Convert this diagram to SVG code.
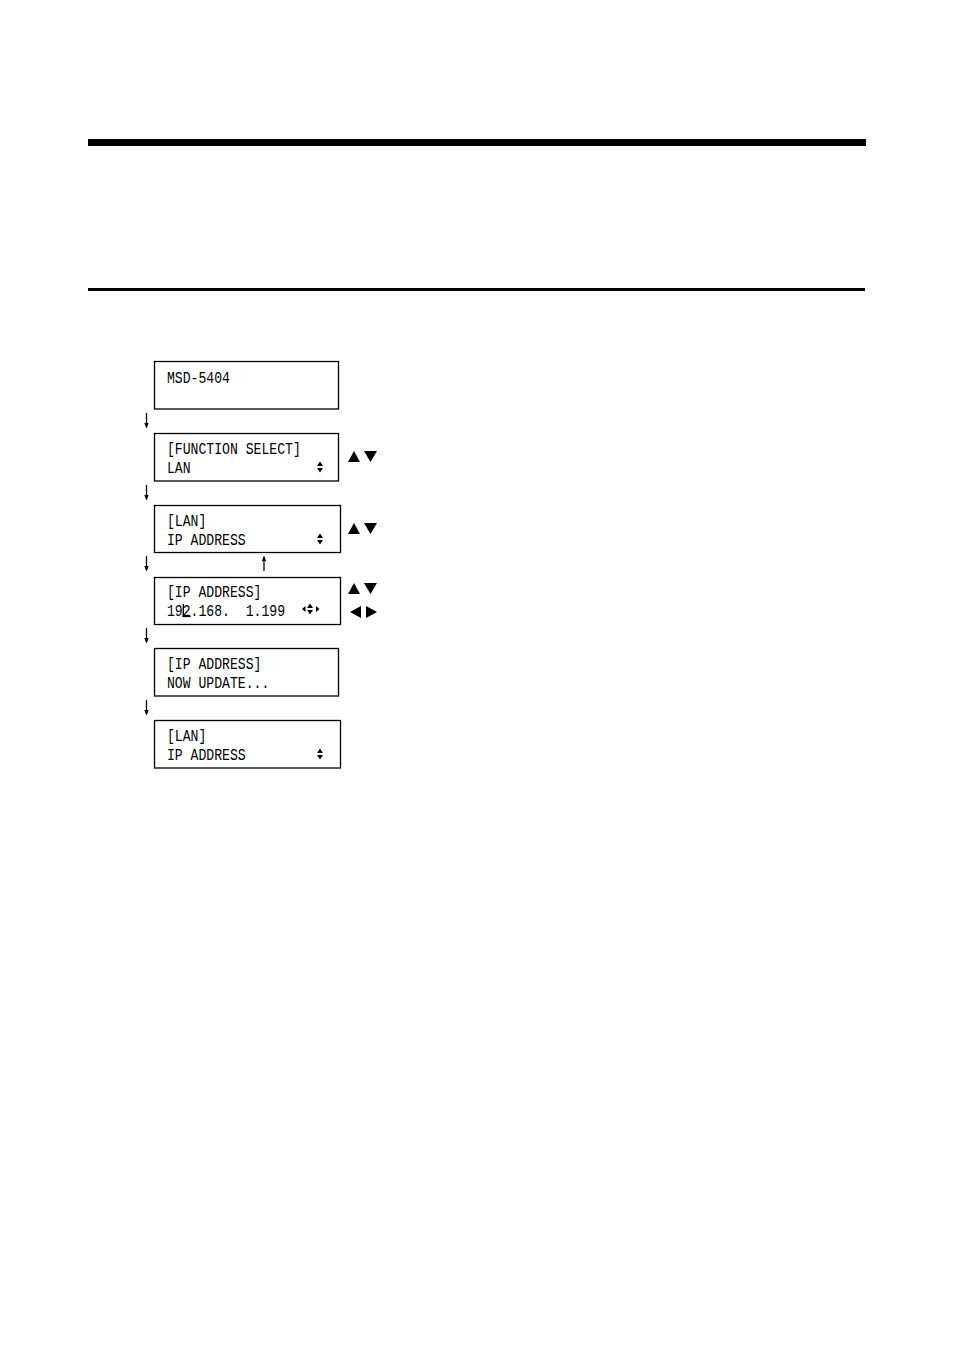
<svg xmlns="http://www.w3.org/2000/svg" width="954" height="1350" viewBox="0 0 954 1350">
<defs>
<style>
.box{fill:#fff;stroke:#000;stroke-width:1.3}
.t{font-family:"Liberation Mono","DejaVu Sans Mono",monospace;font-size:16px;fill:#000;white-space:pre}
.tri{fill:#000}
.ar{stroke:#000;stroke-width:1.3;fill:none}
</style>
<g id="ud">
<path class="tri" d="M-3,-1 L0,-5.5 L3,-1 Z M-3,1 L0,5.5 L3,1 Z"/>
</g>
<g id="dn"><line class="ar" x1="0" y1="0" x2="0" y2="14"/><path class="tri" d="M-2.2,10 L0,15.5 L2.2,10 Z"/></g>
</defs>
<rect width="954" height="1350" fill="#fff"/>
<rect x="88" y="139" width="778" height="7" fill="#000"/>
<rect x="88" y="288" width="777" height="3" fill="#000"/>

<g id="connectors">
<use href="#dn" x="146.5" y="413"/>
<use href="#dn" x="146.5" y="485"/>
<use href="#dn" x="146.5" y="556"/>
<use href="#dn" x="146.5" y="628"/>
<use href="#dn" x="146.5" y="700"/>
<g transform="translate(264,571) scale(1,-1)"><use href="#dn"/></g>
</g>

<g id="n1">
<rect class="box" x="154.5" y="361.5" width="184" height="47.5"/>
<text class="t" transform="translate(167,383) scale(0.82,1)">MSD-5404</text>
</g>

<g id="n2">
<rect class="box" x="154.5" y="433.5" width="184" height="47.5"/>
<text class="t" transform="translate(167,454) scale(0.82,1)">[FUNCTION SELECT]</text>
<text class="t" transform="translate(167,473) scale(0.82,1)">LAN</text>
<use href="#ud" x="320" y="467"/>
<path class="tri" d="M348,462 L354,451 L360,462 Z M364,451 L377,451 L370.5,462 Z"/>
</g>

<g id="n3">
<rect class="box" x="154.5" y="505.5" width="186" height="47"/>
<text class="t" transform="translate(167,526) scale(0.82,1)">[LAN]</text>
<text class="t" transform="translate(167,545) scale(0.82,1)">IP ADDRESS</text>
<use href="#ud" x="320" y="539"/>
<path class="tri" d="M348,534 L354,523 L360,534 Z M364,523 L377,523 L370.5,534 Z"/>
</g>

<g id="n4">
<rect class="box" x="154.5" y="577.5" width="186" height="47"/>
<text class="t" transform="translate(167,597) scale(0.82,1)">[IP ADDRESS]</text>
<text class="t" xml:space="preserve" transform="translate(167,616) scale(0.82,1)">192.168.  1.199</text>
<rect x="182.6" y="604" width="1.4" height="13" fill="#000"/>
<rect x="182.6" y="615.5" width="8" height="1.6" fill="#000"/>
<path class="tri" d="M302,609 L305.5,606 L305.5,612 Z M316,606 L319.5,609 L316,612 Z"/>
<use href="#ud" x="310" y="609"/>
<path class="tri" d="M348,594 L354,583 L360,594 Z M364,583 L377,583 L370.5,594 Z"/>
<path class="tri" d="M350,612 L361,606 L361,618 Z M366,606 L377,612 L366,618 Z"/>
</g>

<g id="n5">
<rect class="box" x="154.5" y="648.5" width="184" height="47.5"/>
<text class="t" transform="translate(167,669) scale(0.82,1)">[IP ADDRESS]</text>
<text class="t" transform="translate(167,688) scale(0.82,1)">NOW UPDATE...</text>
</g>

<g id="n6">
<rect class="box" x="154.5" y="720.5" width="186" height="47.5"/>
<text class="t" transform="translate(167,741) scale(0.82,1)">[LAN]</text>
<text class="t" transform="translate(167,760) scale(0.82,1)">IP ADDRESS</text>
<use href="#ud" x="320" y="754"/>
</g>
</svg>
